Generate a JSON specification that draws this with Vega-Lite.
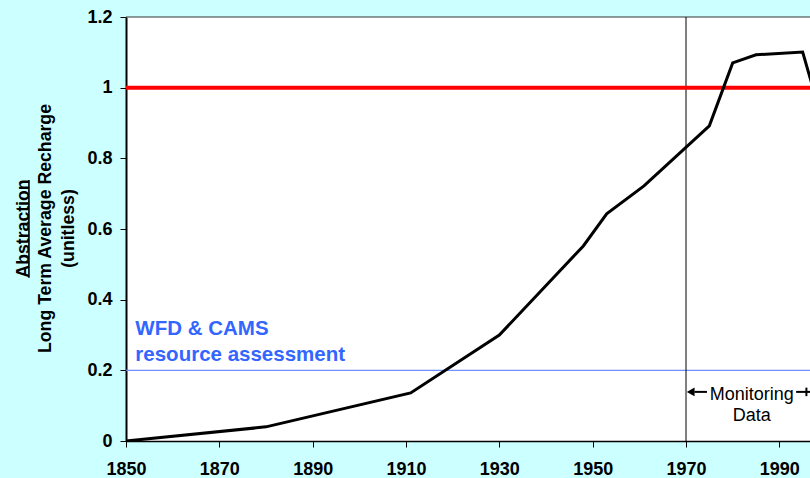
{
  "$schema": "https://vega.github.io/schema/vega-lite/v6.json",
  "width": 684,
  "height": 424,
  "autosize": {"type": "none"},
  "padding": {"left": 126, "top": 17, "right": 0, "bottom": 37},
  "background": "#ccffff",
  "config": {"view": {"stroke": null, "fill": "white"}, "font": "Liberation Sans"},
  "datasets": {
    "ratio": [
      {"year": 1850, "ratio": 0},
      {"year": 1880, "ratio": 0.04},
      {"year": 1911, "ratio": 0.136},
      {"year": 1930, "ratio": 0.30},
      {"year": 1948, "ratio": 0.552},
      {"year": 1953, "ratio": 0.643},
      {"year": 1961, "ratio": 0.722},
      {"year": 1975, "ratio": 0.892},
      {"year": 1980, "ratio": 1.07},
      {"year": 1985, "ratio": 1.093},
      {"year": 1995, "ratio": 1.101},
      {"year": 2000, "ratio": 0.87}
    ]
  },
  "layer": [
    {
      "data": {"values": [{}]},
      "mark": {"type": "rule", "color": "#333333", "strokeWidth": 1},
      "encoding": {"y": {"datum": 1.2}}
    },
    {
      "data": {"values": [{}]},
      "mark": {"type": "rule", "color": "#7090ff", "strokeWidth": 1.2},
      "encoding": {"y": {"datum": 0.2}}
    },
    {
      "data": {"values": [{}]},
      "mark": {"type": "rule", "color": "#000000", "strokeWidth": 1},
      "encoding": {"x": {"datum": 1970}}
    },
    {
      "data": {"values": [{}]},
      "mark": {"type": "rule", "color": "#ff0000", "strokeWidth": 4},
      "encoding": {"y": {"datum": 1}}
    },
    {
      "data": {"name": "ratio"},
      "mark": {"type": "line", "color": "#000000", "strokeWidth": 3, "clip": true},
      "encoding": {
        "x": {
          "field": "year",
          "type": "quantitative",
          "scale": {"domain": [1850, 1996.57], "nice": false, "zero": false},
          "axis": {
            "values": [1850, 1870, 1890, 1910, 1930, 1950, 1970, 1990],
            "format": "d",
            "title": null,
            "grid": false,
            "labelFontSize": 18,
            "labelFontWeight": "bold",
            "labelColor": "#000000",
            "labelPadding": 13,
            "labelFlush": false,
            "labelOverlap": false,
            "tickColor": "#000000",
            "tickSize": 6,
            "domainColor": "#000000",
            "domainWidth": 1.5
          }
        },
        "y": {
          "field": "ratio",
          "type": "quantitative",
          "scale": {"domain": [0, 1.2], "nice": false},
          "axis": {
            "values": [0, 0.2, 0.4, 0.6, 0.8, 1, 1.2],
            "format": ".1~f",
            "grid": false,
            "labelFontSize": 18,
            "labelFontWeight": "bold",
            "labelColor": "#000000",
            "labelPadding": 8,
            "labelFlush": false,
            "labelOverlap": false,
            "tickColor": "#000000",
            "tickSize": 6,
            "domainColor": "#000000",
            "domainWidth": 2,
            "title": ["Abstraction", "Long Term Average Recharge", "(unitless)"],
            "titleFontSize": 17.7,
            "titleFontWeight": "bold",
            "titleColor": "#000000",
            "titleLineHeight": 22.5,
            "titleAngle": -90,
            "titleAlign": "center",
            "titleBaseline": "bottom",
            "titleX": -94,
            "titleY": 211
          }
        }
      }
    },
    {
      "data": {"values": [{}]},
      "mark": {"type": "rule", "color": "#000000", "strokeWidth": 1.6},
      "encoding": {
        "x": {"datum": 1829.2},
        "y": {"datum": 0.462},
        "y2": {"datum": 0.739}
      }
    },
    {
      "data": {"values": [{}]},
      "mark": {
        "type": "text",
        "text": ["WFD & CAMS", "resource assessment"],
        "align": "left",
        "baseline": "alphabetic",
        "fontSize": 20.5,
        "fontWeight": "bold",
        "color": "#3366ff",
        "lineHeight": 26
      },
      "encoding": {"x": {"datum": 1852}, "y": {"datum": 0.30}}
    },
    {
      "data": {"values": [{}]},
      "mark": {
        "type": "text",
        "text": ["Monitoring", "Data"],
        "align": "center",
        "baseline": "alphabetic",
        "fontSize": 18,
        "color": "#000000",
        "lineHeight": 21
      },
      "encoding": {"x": {"datum": 1984.1}, "y": {"datum": 0.116}}
    },
    {
      "data": {"values": [{}]},
      "mark": {"type": "rule", "color": "#000000", "strokeWidth": 2},
      "encoding": {
        "x": {"datum": 1971.8},
        "x2": {"datum": 1974.5},
        "y": {"datum": 0.139}
      }
    },
    {
      "data": {"values": [{}]},
      "mark": {"type": "point", "shape": "triangle-left", "filled": true, "color": "#000000", "opacity": 1, "size": 80},
      "encoding": {"x": {"datum": 1971.0}, "y": {"datum": 0.139}}
    },
    {
      "data": {"values": [{}]},
      "mark": {"type": "rule", "color": "#000000", "strokeWidth": 2},
      "encoding": {
        "x": {"datum": 1993.6},
        "x2": {"datum": 1996.6},
        "y": {"datum": 0.139}
      }
    },
    {
      "data": {"values": [{}]},
      "mark": {"type": "rule", "color": "#000000", "strokeWidth": 2},
      "encoding": {
        "x": {"datum": 1995.8},
        "y": {"datum": 0.127},
        "y2": {"datum": 0.151}
      }
    }
  ]
}
